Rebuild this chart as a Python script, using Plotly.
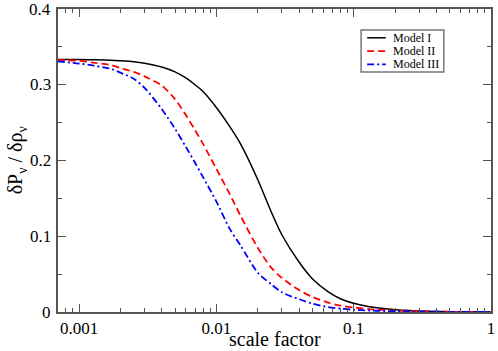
import plotly.graph_objs as go

# scale factor grid
scale_factor = [0.0007, 0.001, 0.0013, 0.0017, 0.002, 0.0025, 0.003, 0.004, 0.005,
                0.006, 0.007, 0.008, 0.01, 0.0125, 0.015, 0.02, 0.025, 0.03, 0.04,
                0.05, 0.065, 0.08, 0.1, 0.13, 0.17, 0.2, 0.25, 0.3, 0.4, 0.5, 0.7, 1.0]

model_1 = [0.3333, 0.3332, 0.3330, 0.3325, 0.3318, 0.3305, 0.3285, 0.3235, 0.317,
           0.309, 0.300, 0.291, 0.270, 0.245, 0.222, 0.175, 0.133, 0.102, 0.066,
           0.044, 0.027, 0.0175, 0.0115, 0.007, 0.0043, 0.003, 0.002, 0.0013, 0.0007,
           0.0004, 0.0002, 0.0001]

model_2 = [0.333, 0.3315, 0.329, 0.326, 0.322, 0.317, 0.311, 0.299, 0.281,
           0.260, 0.240, 0.222, 0.189, 0.156, 0.127, 0.085, 0.059, 0.045, 0.029,
           0.020, 0.0125, 0.0085, 0.006, 0.0038, 0.0025, 0.0018, 0.0012, 0.0009, 0.0005,
           0.0003, 0.00015, 0.0001]

model_3 = [0.331, 0.328, 0.325, 0.321, 0.316, 0.308, 0.296, 0.268, 0.242,
           0.218, 0.197, 0.178, 0.146, 0.110, 0.088, 0.052, 0.037, 0.026, 0.017,
           0.011, 0.0065, 0.0045, 0.003, 0.002, 0.0013, 0.001, 0.0007, 0.0005, 0.0003,
           0.0002, 0.00012, 0.0001]

model_names = ['Model I', 'Model II', 'Model III']

x_ticks = [0.001, 0.01, 0.1, 1]
x_ticktext = ['0.001', '0.01', '0.1', '1']
y_ticks = [0, 0.1, 0.2, 0.3, 0.4]
y_ticktext = ['0', '0.1', '0.2', '0.3', '0.4']

FONT = 'Times New Roman, Liberation Serif, serif'
AXIS_COLOR = '#555555'

line_styles = [
    dict(color='black', width=1.5),
    dict(color='#ff0000', width=1.8, dash='7px,4px'),
    dict(color='#0000ff', width=1.8, dash='7px,3px,2px,3px'),
]

fig = go.Figure()

for name, values, style in zip(model_names, [model_1, model_2, model_3], line_styles):
    fig.add_trace(go.Scatter(
        x=scale_factor, y=values, mode='lines', name=name, showlegend=False,
        line=dict(shape='spline', smoothing=0.8, **style)
    ))

axis_common = dict(
    showgrid=False, zeroline=False, showline=True, linecolor=AXIS_COLOR,
    linewidth=2, mirror='ticks', ticks='inside', ticklen=8, tickwidth=1,
    tickcolor=AXIS_COLOR, tickfont=dict(family=FONT, size=17, color='black'),
    automargin=False, ticklabeloverflow='allow',
)

fig.update_xaxes(
    type='log', range=[-3.153, 0], tickvals=x_ticks, ticktext=x_ticktext,
    minor=dict(ticks='inside', ticklen=4, tickcolor=AXIS_COLOR, dtick='D1'),
    **axis_common
)
fig.update_yaxes(
    range=[0, 0.4], tickvals=y_ticks, showticklabels=False,
    minor=dict(ticks='inside', ticklen=4, tickcolor=AXIS_COLOR, dtick=0.05),
    **axis_common
)

# y tick labels sit closer to the axis than plotly puts them
for val, txt in zip(y_ticks, y_ticktext):
    fig.add_annotation(
        text=txt, xref='paper', yref='y', x=-0.011, y=val,
        xanchor='right', yanchor='middle', showarrow=False,
        font=dict(family=FONT, size=17, color='black')
    )

# axis titles as annotations so they sit where the reference has them
fig.add_annotation(
    text='scale factor', xref='paper', yref='paper', x=0.5, y=-0.088,
    xanchor='center', yanchor='middle', showarrow=False,
    font=dict(family=FONT, size=20, color='black')
)
fig.add_annotation(
    text='δP<sub>ν</sub> / δρ<sub>ν</sub>', xref='paper', yref='paper',
    x=-0.095, y=0.5, xanchor='center', yanchor='middle', textangle=-90,
    showarrow=False, font=dict(family=FONT, size=20, color='black')
)

# compact legend box (plotly's own legend rows are too tall for this one)
fig.add_shape(type='rect', xref='paper', yref='paper',
              x0=0.700, x1=0.891, y0=0.792, y1=0.931,
              line=dict(color='#777777', width=1.5), fillcolor='white', layer='above')
row_y = [0.905, 0.861, 0.817]
for name, style, yy in zip(model_names, line_styles, row_y):
    fig.add_shape(type='line', xref='paper', yref='paper',
                  x0=0.714, x1=0.757, y0=yy, y1=yy, line=style, layer='above')
    fig.add_annotation(text=name, xref='paper', yref='paper', x=0.772, y=yy,
                       xanchor='left', yanchor='middle', showarrow=False,
                       height=12, borderpad=0,
                       font=dict(family=FONT, size=12, color='black'))

fig.update_layout(
    width=498, height=351,
    margin=dict(l=58, r=7, t=9, b=39),
    plot_bgcolor='white', paper_bgcolor='white',
    font=dict(family=FONT, color='black'),
    showlegend=False
)

# drop the default page margin so the figure sits at the window's corner
fig.write_html("out.html", config={'displayModeBar': False},
               post_script="document.body.style.margin='0';")
